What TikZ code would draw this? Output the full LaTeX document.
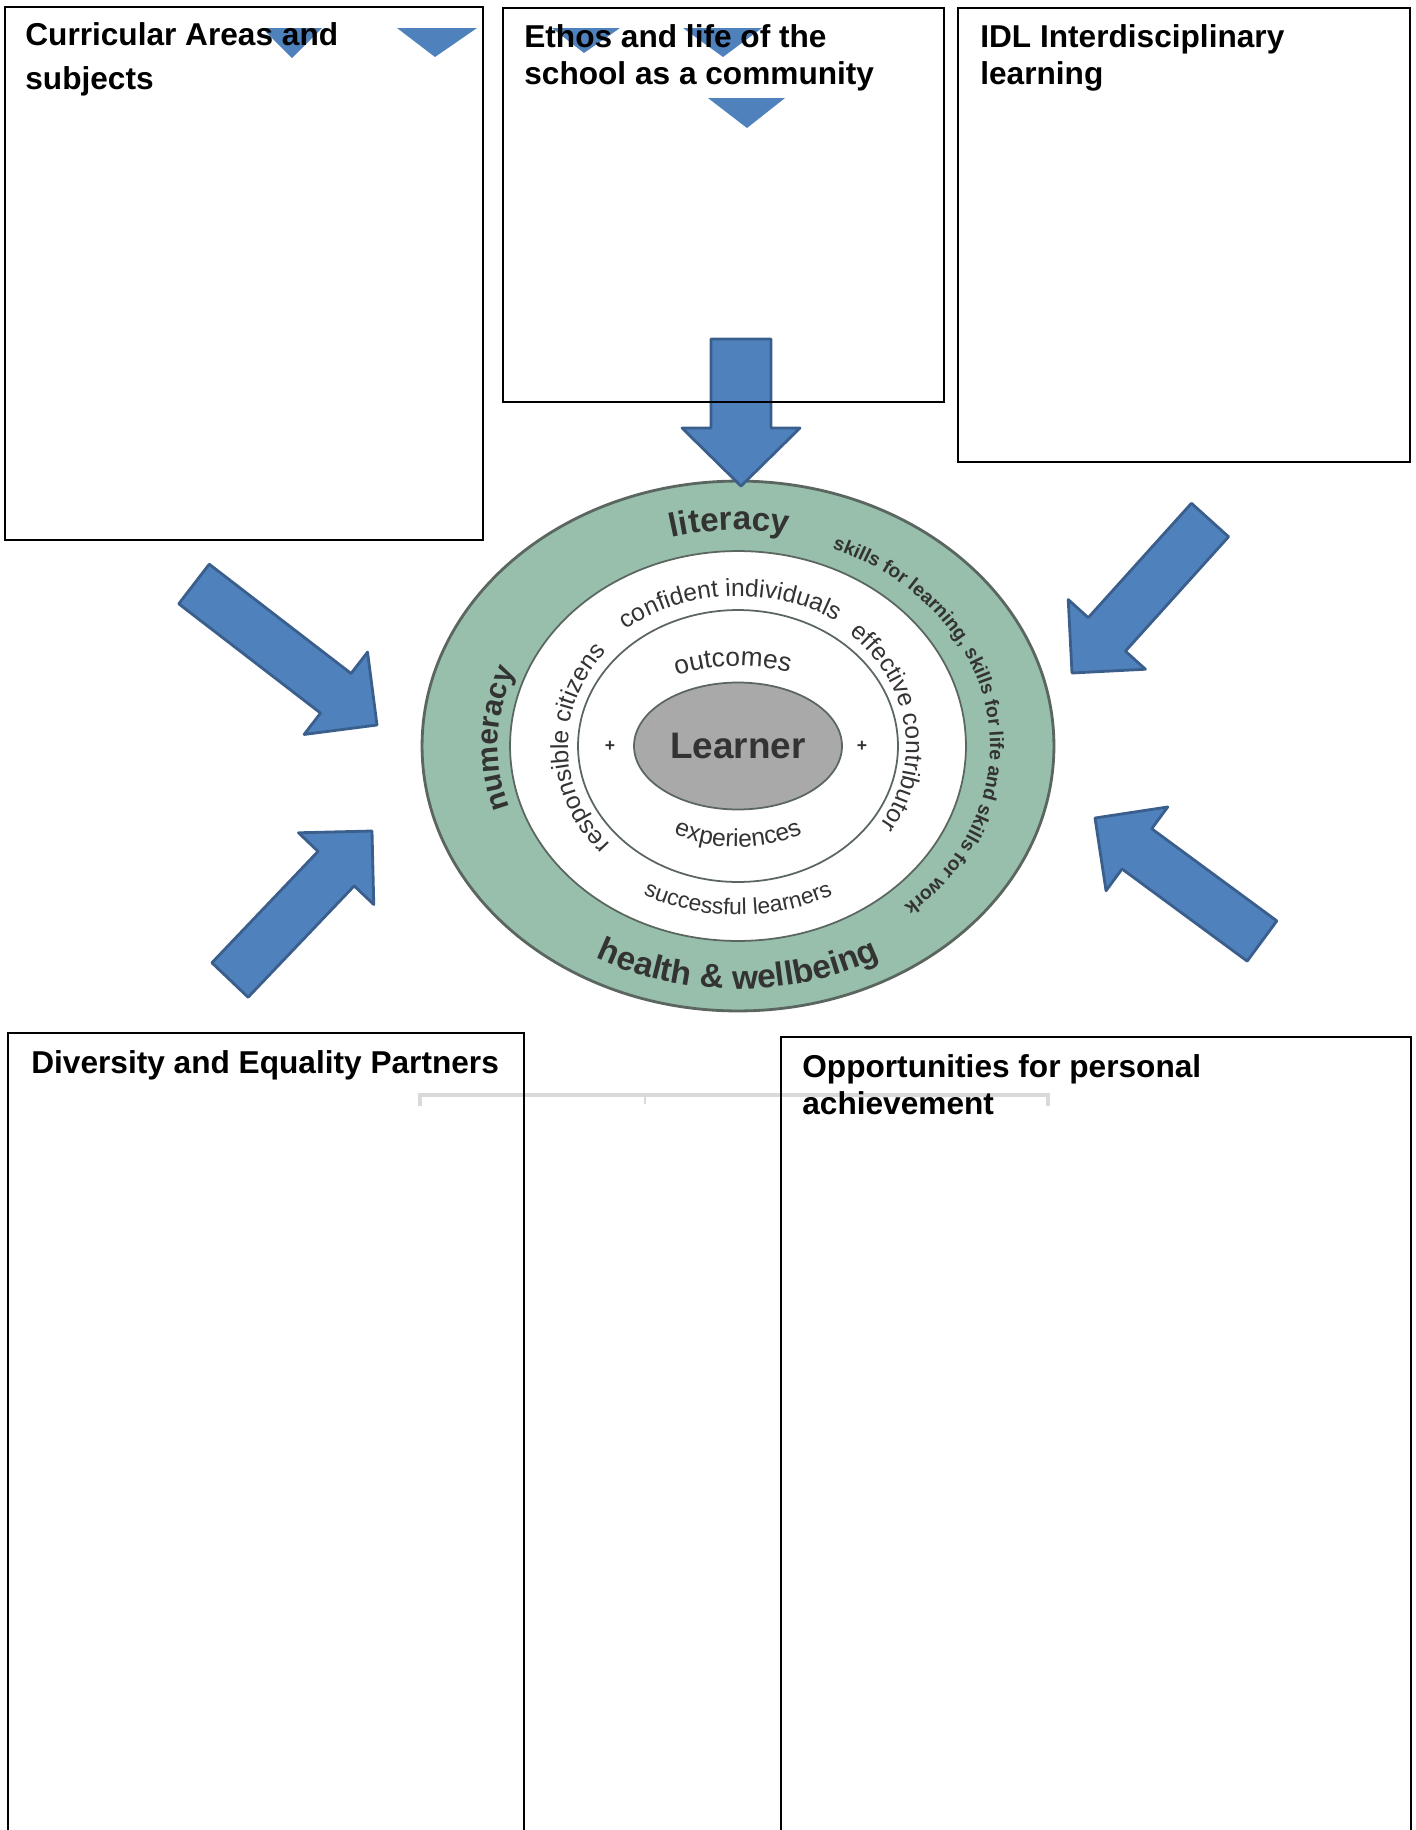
\documentclass[tikz,border=0pt]{standalone}
\usepackage{fontspec}
\setmainfont{Liberation Sans}
\usetikzlibrary{calc,fit,shapes.geometric,decorations.text}

\definecolor{setaazul}{HTML}{4F81BD}
\definecolor{setaborda}{HTML}{3A5F8C}
\definecolor{anelverde}{HTML}{97BFAB}
\definecolor{anelborda}{HTML}{5A665F}
\definecolor{centrocinza}{HTML}{A9A9A9}
\definecolor{textocinza}{HTML}{333333}

\newcommand{\fonteanel}{\bfseries\fontsize{19}{19}\selectfont}
\newcommand{\fontelado}{\bfseries\fontsize{17}{17}\selectfont}
\newcommand{\fontehab}{\bfseries\fontsize{11}{11}\selectfont}
\newcommand{\fontemeio}{\fontsize{14}{14}\selectfont}

% seta larga: cauda, ponta, meia largura da haste, meia largura da ponta, comprimento da ponta
\newcommand{\setabloco}[5]{%
  \coordinate (hb) at ($(#2)!#5!(#1)$);
  \draw[seta] ($(#1)!#3!90:(#2)$) -- ($(hb)!#3!90:(#2)$) -- ($(hb)!#4!90:(#2)$) -- (#2)
    -- ($(hb)!#4!-90:(#2)$) -- ($(hb)!#3!-90:(#2)$) -- ($(#1)!#3!-90:(#2)$) -- cycle;
}

\begin{document}
\begin{tikzpicture}[x=0.02cm, y=-0.02cm]
		% Estilos
		\tikzstyle{caixa} = [draw=black, line width=1.2pt, inner sep=0pt]
		\tikzstyle{titulo} = [anchor=base west, align=left, inner sep=0pt, font=\bfseries\fontsize{18}{21}\selectfont]
		\tikzstyle{seta} = [fill=setaazul, draw=setaborda, line width=1.6pt, line join=round]
		\tikzstyle{ponta} = [fill=setaazul]
		\tikzstyle{anel} = [fill=anelverde, draw=anelborda, line width=1.6pt]
		\tikzstyle{linha} = [draw=anelborda, line width=1pt]
		\tikzstyle{centro} = [ellipse, fill=centrocinza, draw=anelborda, line width=1pt, minimum width=4.16cm, minimum height=2.54cm, text=textocinza, font=\bfseries\fontsize{21}{21}\selectfont]
		\tikzstyle{curvo} = [decorate, decoration={text along path, text align=center, text color=textocinza}]
		\useasboundingbox (0,0) rectangle (1416,1830);
		% Roda do aprendiz
		\begin{scope}[shift={(738,746)}, x=1cm, y=1cm]
			\draw[anel] (0,0) ellipse [x radius=6.32cm, y radius=5.3cm];
			\draw[linha, fill=white] (0,0) ellipse [x radius=4.56cm, y radius=3.9cm];
			\draw[linha] (0,0) ellipse [x radius=3.2cm, y radius=2.72cm];
			\node (aprendiz) [centro] at (0,0) {Learner};
			\node (mais1) [text=textocinza, font=\bfseries\fontsize{10}{10}\selectfont] at (-2.56cm,0) {+};
			\node (mais2) [text=textocinza, font=\bfseries\fontsize{10}{10}\selectfont] at (2.48cm,0) {+};
			\path[curvo, decoration={text={|\fonteanel|literacy}}] (135:5.1cm and 4.32cm) arc [start angle=135, end angle=49, x radius=5.1cm, y radius=4.32cm];
			\path[curvo, decoration={text={|\fonteanel|health {\&} wellbeing}}] (220:5.8cm and 4.86cm) arc [start angle=220, end angle=320, x radius=5.8cm, y radius=4.86cm];
			\path[curvo, decoration={text={|\fontelado|numeracy}}] (215:4.8cm and 4.04cm) arc [start angle=215, end angle=141, x radius=4.8cm, y radius=4.04cm];
			\path[curvo, decoration={text={|\fontehab|skills for learning, skills for life and skills for work}}] (75:5.04cm and 4.26cm) arc [start angle=75, end angle=-56, x radius=5.04cm, y radius=4.26cm];
			\path[curvo, decoration={text={|\fontemeio|confident individuals}}] (150:3.56cm and 3cm) arc [start angle=150, end angle=36, x radius=3.56cm, y radius=3cm];
			\path[curvo, decoration={text={|\fontemeio|effective contributor}}] (60:3.36cm and 3cm) arc [start angle=60, end angle=-44, x radius=3.36cm, y radius=3cm];
			\path[curvo, decoration={text={|\fontemeio|responsible citizens}}] (240:3.4cm and 3cm) arc [start angle=240, end angle=122, x radius=3.4cm, y radius=3cm];
			\path[curvo, decoration={text={|\fontsize{13}{13}\selectfont|successful learners}}] (225:4cm and 3.38cm) arc [start angle=225, end angle=315, x radius=4cm, y radius=3.38cm];
			\path[curvo, decoration={text={|\fontsize{15}{15}\selectfont|outcomes}}] (150:2.6cm and 1.6cm) arc [start angle=150, end angle=36, x radius=2.6cm, y radius=1.6cm];
			\path[curvo, decoration={text={|\fontemeio|experiences}}] (220:2.6cm and 2.02cm) arc [start angle=220, end angle=320, x radius=2.6cm, y radius=2.02cm];
		\end{scope}
		\draw[gray!30, line width=2pt] (420,1106) -- (420,1095) -- (1048,1095) -- (1048,1106);
		\draw[gray!30, line width=1.5pt] (645,1095) -- (645,1104);
		% Setas
		\coordinate (cauda0) at (741,339);
		\coordinate (ponta0) at (741,486);
		\coordinate (cauda1) at (194,584);
		\coordinate (ponta1) at (377,725);
		\coordinate (cauda2) at (230,980);
		\coordinate (ponta2) at (372,831);
		\coordinate (cauda3) at (1210,520);
		\coordinate (ponta3) at (1072,673);
		\coordinate (cauda4) at (1262,941);
		\coordinate (ponta4) at (1095,818);
		\setabloco{cauda0}{ponta0}{0.6cm}{1.18cm}{1.16cm}
		\setabloco{cauda1}{ponta1}{0.5cm}{1.04cm}{1.04cm}
		\setabloco{cauda2}{ponta2}{0.5cm}{1.04cm}{1.04cm}
		\setabloco{cauda3}{ponta3}{0.5cm}{1.04cm}{1.04cm}
		\setabloco{cauda4}{ponta4}{0.5cm}{1.04cm}{1.04cm}
		% Caixas
		\node (areas) [caixa, fit={(5,7) (483,540)}] {};
		\node (ethos) [caixa, fit={(503,8) (944,402)}] {};
		\node (idl) [caixa, fit={(958,8) (1410,462)}] {};
		\node (diversidade) [caixa, fit={(8,1033) (524,1850)}] {};
		\node (oportunidades) [caixa, fit={(781,1037) (1411,1850)}] {};
		% Pontas soltas
		\fill[ponta] (262,28) -- (322,28) -- (292,58) -- cycle;
		\fill[ponta] (397,28) -- (477,28) -- (435,57) -- cycle;
		\fill[ponta] (552,28) -- (620,28) -- (584,53) -- cycle;
		\fill[ponta] (683,28) -- (762,28) -- (723,57) -- cycle;
		\fill[ponta] (708,98) -- (785,98) -- (747,128) -- cycle;
		% Títulos (base da última linha)
		\node (t1) [titulo, font=\bfseries\fontsize{18}{25}\selectfont] at (25,89) {Curricular Areas and\\subjects};
		\node (t2) [titulo] at (524,84) {Ethos and life of the\\school as a community};
		\node (t3) [titulo] at (980,84) {IDL Interdisciplinary\\learning};
		\node (t4) [titulo] at (31,1073) {Diversity and Equality Partners};
		\node (t5) [titulo] at (802,1114) {Opportunities for personal\\achievement};
	\end{tikzpicture}
\end{document}
